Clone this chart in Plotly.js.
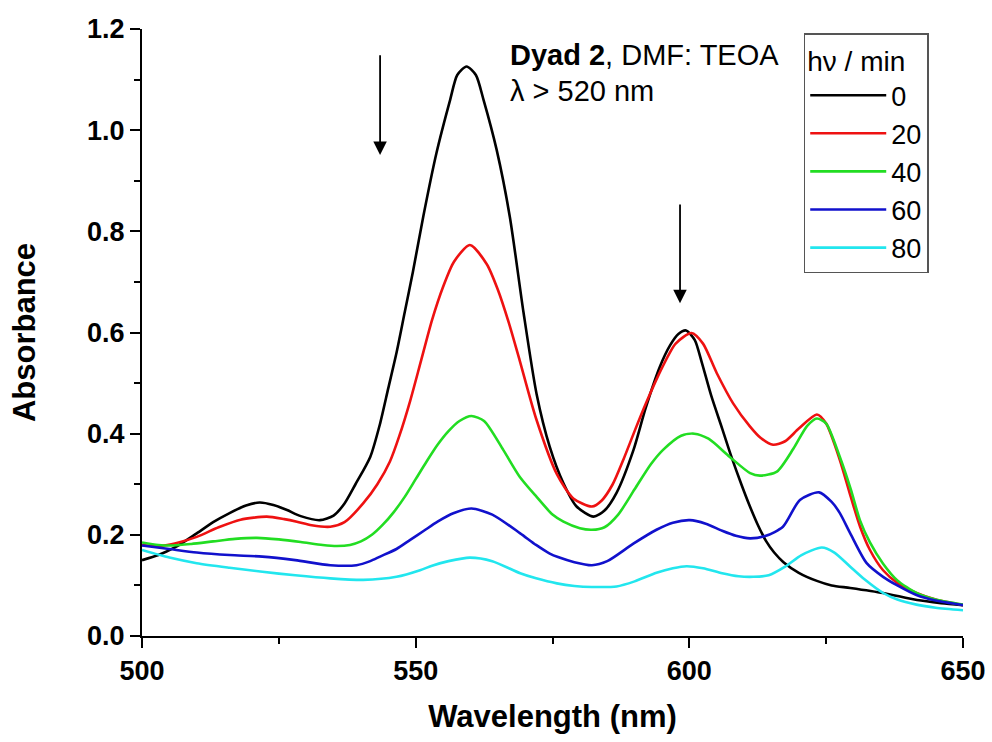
<!DOCTYPE html>
<html>
<head>
<meta charset="utf-8">
<script src="https://cdn.plot.ly/plotly-3.0.1.min.js"></script>
<style>html,body{margin:0;padding:0;background:#fff;}#chart{width:992px;height:742px;}</style>
</head>
<body>
<div id="chart"></div>
<script>
// Irradiation time labels (legend)
const seriesNames = ["0", "20", "40", "60", "80"];
const seriesColors = ["#000000", "#ee1111", "#22dd22", "#1111cc", "#22e6ee"];

// 0 min
const wl0 = [500,503,506,510,513,516,519,521.5,524,526.5,529,532.5,535,537,539,541.7,543.5,545,546.5,548,549.5,551.4,553.8,556.3,557.6,559.3,561,562.4,564.8,567.2,569.7,572.1,574.5,577,579.4,582.5,584.5,586.7,589.8,592,594.6,596.5,598,599.4,601,602.3,604,606,607.7,609.5,611,612.5,614,615.5,617.2,620,623.3,626,629.4,635.4,641.6,646,650];
const abs0 = [0.150,0.160,0.175,0.203,0.225,0.243,0.258,0.264,0.259,0.249,0.237,0.229,0.238,0.262,0.300,0.354,0.420,0.490,0.560,0.640,0.720,0.830,0.955,1.060,1.109,1.126,1.109,1.060,0.961,0.829,0.640,0.478,0.374,0.302,0.256,0.236,0.248,0.283,0.368,0.450,0.532,0.575,0.597,0.604,0.585,0.540,0.475,0.410,0.354,0.300,0.258,0.220,0.188,0.165,0.146,0.125,0.109,0.100,0.095,0.085,0.071,0.065,0.061];

// 20 min
const wl20 = [500,503,506,510,514,518,522.8,526,528.3,531,534.4,537,540.4,543,545.3,547,549,551,553,555,557,559.9,563,565,567,569,572,575.8,578.8,582.2,584,586,588,590,592,595,597.5,600.4,602.5,605,608,611.1,613,615.3,617.5,620,623.3,625,627.5,629.5,631.2,633,635.4,638,641.5,645,650];
const abs20 = [0.180,0.178,0.183,0.196,0.215,0.230,0.236,0.231,0.226,0.219,0.216,0.225,0.262,0.300,0.345,0.395,0.465,0.545,0.625,0.690,0.740,0.773,0.735,0.685,0.620,0.545,0.430,0.320,0.272,0.256,0.268,0.300,0.350,0.405,0.458,0.530,0.578,0.599,0.578,0.520,0.460,0.414,0.392,0.378,0.385,0.410,0.438,0.420,0.348,0.275,0.216,0.170,0.130,0.105,0.085,0.072,0.061];

// 40 min
const wl40 = [500,503,505.7,509,513,517,521,525,529,533,535.6,538,540,542,544,546,548,550,552,554,556,558,560.2,562.5,566,569,572.1,575,577,580,582.2,584.5,587,590,593,595.2,598.5,600.9,603.5,607.4,611.1,612.9,616,619,621.5,623.3,625,627.5,629.5,631.2,633,635.4,638,641.5,645,650];
const abs40 = [0.185,0.180,0.179,0.182,0.187,0.192,0.194,0.191,0.186,0.180,0.178,0.180,0.187,0.200,0.220,0.245,0.275,0.310,0.345,0.378,0.405,0.425,0.435,0.425,0.368,0.315,0.275,0.240,0.226,0.213,0.210,0.215,0.240,0.290,0.340,0.368,0.396,0.400,0.390,0.354,0.322,0.317,0.325,0.370,0.415,0.430,0.420,0.354,0.290,0.228,0.185,0.143,0.110,0.085,0.072,0.062];

// 60 min
const wl60 = [500,505,510,516,522,528,534.4,539.2,541.7,543.5,546.5,549,551.5,554,557,560.2,564,569.1,572,574.5,576,579,582.2,585,589.7,594,597,600.1,603,606,608.5,611.1,614,617.1,620.2,623.7,626,627.5,629.4,632.4,635.4,638,641.5,645,650];
const abs60 = [0.179,0.172,0.165,0.160,0.157,0.150,0.140,0.140,0.148,0.157,0.172,0.190,0.208,0.226,0.243,0.252,0.240,0.203,0.180,0.163,0.156,0.146,0.140,0.148,0.182,0.210,0.224,0.229,0.222,0.208,0.198,0.193,0.198,0.216,0.269,0.284,0.265,0.243,0.203,0.144,0.117,0.100,0.081,0.070,0.061];

// 80 min
const wl80 = [500,505,510,516,522,528,534.4,540.4,546.5,550.8,553,556,559.9,564,569.1,572,575.8,579,582.2,586.7,590,594,597,599.5,602.5,606,609,611.7,614.5,617.5,620.5,624.2,626.5,629.4,632,635.4,638,641.5,645,650];
const abs80 = [0.170,0.155,0.144,0.135,0.127,0.120,0.114,0.111,0.117,0.130,0.139,0.148,0.155,0.148,0.124,0.114,0.104,0.099,0.097,0.098,0.108,0.125,0.134,0.138,0.134,0.124,0.118,0.117,0.120,0.137,0.160,0.175,0.165,0.137,0.112,0.085,0.072,0.062,0.056,0.051];

const xTickVals = [500, 550, 600, 650];
const yTickVals = [0.0, 0.2, 0.4, 0.6, 0.8, 1.0, 1.2];

const xs = [wl0, wl20, wl40, wl60, wl80];
const ys = [abs0, abs20, abs40, abs60, abs80];

const traces = seriesNames.map((n, i) => ({
  x: xs[i], y: ys[i], name: n, type: 'scatter', mode: 'lines',
  line: {color: seriesColors[i], width: 2.6, shape: 'spline', smoothing: 0.7}
}));

const FONT = 'Liberation Sans, Arial, sans-serif';

const layout = {
  width: 992, height: 742,
  margin: {l: 142, r: 29, t: 29, b: 106},
  paper_bgcolor: '#fff', plot_bgcolor: '#fff',
  showlegend: true,
  legend: {
    x: 0.806, y: 0.993, xanchor: 'left', yanchor: 'top',
    bgcolor: '#fff', bordercolor: '#555', borderwidth: 1.5,
    font: {family: FONT, size: 27, color: '#000'},
    title: {text: 'h\u03bd / min', font: {family: FONT, size: 28, color: '#000'}},
    itemwidth: 76
  },
  xaxis: {
    range: [500, 650], showgrid: false, zeroline: false,
    showline: true, linecolor: '#000', linewidth: 2,
    ticks: 'outside', ticklen: 10, tickwidth: 2, tickcolor: '#000',
    tickvals: xTickVals, ticktext: xTickVals.map(String),
    tickfont: {family: FONT, size: 27, color: '#000', weight: 'bold'},
    minor: {dtick: 25, tick0: 500, ticks: 'outside', ticklen: 6, tickwidth: 2, tickcolor: '#000', showgrid: false},
    title: {text: '<b>Wavelength (nm)</b>', font: {family: FONT, size: 31, color: '#000'}, standoff: 20},
    automargin: false
  },
  yaxis: {
    range: [0, 1.2], showgrid: false, zeroline: false,
    showline: true, linecolor: '#000', linewidth: 2,
    ticks: 'outside', ticklen: 10, tickwidth: 2, tickcolor: '#000',
    tickvals: yTickVals, ticktext: yTickVals.map(v => v.toFixed(1)),
    tickfont: {family: FONT, size: 27, color: '#000', weight: 'bold'},
    minor: {dtick: 0.1, tick0: 0, ticks: 'outside', ticklen: 6, tickwidth: 2, tickcolor: '#000', showgrid: false},
    title: {text: '<b>Absorbance</b>', font: {family: FONT, size: 31, color: '#000'}, standoff: 42},
    automargin: false
  },
  annotations: [
    {x: 566.8, y: 1.149, xref: 'x', yref: 'y', xanchor: 'left', yanchor: 'middle', showarrow: false,
     text: '<b>Dyad 2</b>, DMF: TEOA', font: {family: FONT, size: 29, color: '#000'}},
    {x: 566.8, y: 1.078, xref: 'x', yref: 'y', xanchor: 'left', yanchor: 'middle', showarrow: false,
     text: '\u03bb > 520 nm', font: {family: FONT, size: 29, color: '#000'}},
    {x: 543.5, y: 0.951, ax: 543.5, ay: 1.151, xref: 'x', yref: 'y', axref: 'x', ayref: 'y',
     showarrow: true, arrowhead: 2, arrowsize: 1.5, arrowwidth: 1.8, arrowcolor: '#000', text: ''},
    {x: 598.3, y: 0.658, ax: 598.3, ay: 0.856, xref: 'x', yref: 'y', axref: 'x', ayref: 'y',
     showarrow: true, arrowhead: 2, arrowsize: 1.5, arrowwidth: 1.8, arrowcolor: '#000', text: ''}
  ]
};

Plotly.newPlot('chart', traces, layout, {displayModeBar: false, staticPlot: true});
</script>
</body>
</html>
